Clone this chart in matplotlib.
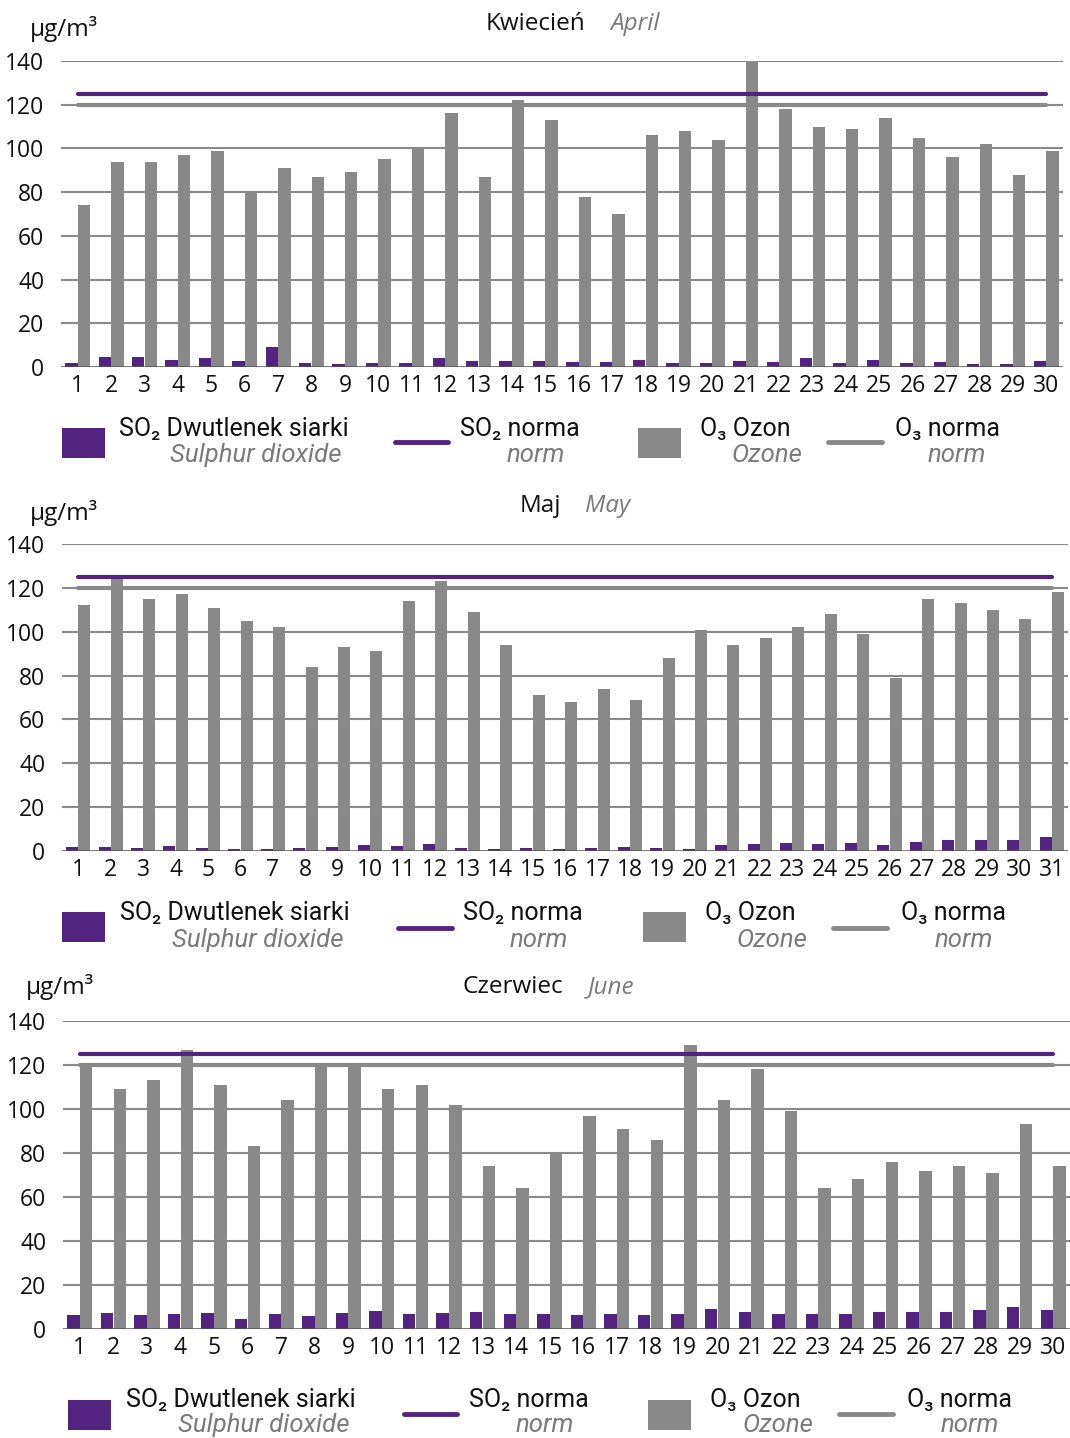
import matplotlib
matplotlib.use('Agg')
import matplotlib.pyplot as plt
from matplotlib.patches import Rectangle
from matplotlib.lines import Line2D
import numpy as np

W, H = 1070, 1438
PURPLE = '#52247f'
GRAY = '#898989'
ITAL = '#7a7a7a'
GRID = '#8a8a8a'

# ---------------- data ----------------
month_pl = ['Kwiecień', 'Maj', 'Czerwiec']
month_en = ['April', 'May', 'June']

april_so2 = [1.7, 4.4, 4.4, 3.1, 4.0, 2.6, 9.0, 1.7, 1.2, 1.7, 1.7, 4.0, 2.6, 2.6, 2.6,
             2.1, 2.1, 3.1, 1.7, 1.7, 2.6, 2.1, 4.0, 1.7, 3.1, 1.7, 2.1, 1.2, 1.2, 2.6]
april_o3 = [74, 94, 94, 97, 99, 80, 91, 87, 89, 95, 100, 116, 87, 122, 113,
            78, 70, 106, 108, 104, 140, 118, 110, 109, 114, 105, 96, 102, 88, 99]
may_so2 = [1.8, 1.8, 1.4, 2.3, 1.4, 0.9, 0.9, 1.4, 1.8, 2.7, 2.3, 3.2, 1.4, 0.9, 1.4, 0.9,
           1.4, 1.8, 1.4, 0.9, 2.7, 3.2, 3.6, 3.2, 3.6, 2.7, 4.1, 5.0, 5.0, 5.0, 6.4]
may_o3 = [112, 124, 115, 117, 111, 105, 102, 84, 93, 91, 114, 123, 109, 94, 71, 68,
          74, 69, 88, 101, 94, 97, 102, 108, 99, 79, 115, 113, 110, 106, 118]
june_so2 = [6.4, 7.3, 6.4, 6.8, 7.3, 4.6, 6.8, 5.9, 7.3, 8.2, 6.8, 7.3, 7.7, 6.8, 6.8,
            6.4, 6.8, 6.4, 6.8, 9.1, 7.7, 6.8, 6.8, 6.8, 7.7, 7.7, 7.7, 8.7, 10.0, 8.7]
june_o3 = [120, 109, 113, 127, 111, 83, 104, 121, 121, 109, 111, 102, 74, 64, 80,
           97, 91, 86, 129, 104, 118, 99, 64, 68, 76, 72, 74, 71, 93, 74]

so2_norm = 125
o3_norm = 120
y_ticks = [0, 20, 40, 60, 80, 100, 120, 140]

so2_series = [april_so2, may_so2, june_so2]
o3_series = [april_o3, may_o3, june_o3]

# ---------------- layout (pixels) ----------------
axes_px = [(61, 1063, 61, 367), (62, 1068, 544, 851), (63, 1070, 1021, 1329)]
unit_px = [(30, 29), (30, 513), (26, 987)]
title_px = [(585, 610, 24), (561, 585, 506), (563, 588, 987)]
legend_px = [
    dict(r1=429, r2=455, st=428, sb=458, ly=442,
         sq1=(62, 105), t1=119, i1=342, l1=(395, 448), t2=460, i2=565,
         sq2=(638, 681), t3=700, i3=802, l2=(828, 882), t4=895, i4=986),
    dict(r1=913, r2=940, st=912, sb=942, ly=928,
         sq1=(62, 105), t1=120, i1=344, l1=(398, 452), t2=463, i2=568,
         sq2=(643, 686), t3=705, i3=807, l2=(833, 887), t4=901, i4=993),
    dict(r1=1400, r2=1425, st=1400, sb=1430, ly=1414,
         sq1=(68, 111), t1=126, i1=350, l1=(404, 457), t2=469, i2=574,
         sq2=(648, 691), t3=710, i3=813, l2=(839, 893), t4=907, i4=999),
]

TICKFONT = ['Open Sans', 'DejaVu Sans']
LEGFONT = ['Roboto', 'DejaVu Sans']


def fx(x):
    return x / W


def fy(y):
    return 1 - y / H


fig = plt.figure(figsize=(W / 100, H / 100), dpi=100)
fig.patch.set_facecolor('white')

for i in range(3):
    l, r, t, b = axes_px[i]
    ax = fig.add_axes([fx(l), fy(b), fx(r) - fx(l), fy(t) - fy(b)])
    so2 = np.array(so2_series[i])
    o3 = np.array(o3_series[i])
    n = len(o3)
    days = np.arange(1, n + 1)

    for v in y_ticks[1:]:
        ax.axhline(v, color=GRID, lw=1.5, zorder=0)
    ax.axhline(0, color='#505050', lw=1.8, zorder=3)

    ax.bar(days - 0.19, so2, width=0.37, color=PURPLE, zorder=2)
    ax.bar(days + 0.19, o3, width=0.37, color=GRAY, zorder=2)

    ax.plot([days[0], days[-1]], [so2_norm, so2_norm], color=PURPLE, lw=3.0,
            solid_capstyle='round', zorder=4)
    ax.plot([days[0], days[-1]], [o3_norm, o3_norm], color=GRAY, lw=3.0,
            solid_capstyle='round', zorder=4)

    ax.set_xlim(0.5, n + 0.5)
    ax.set_ylim(0, 140)
    ax.set_xticks(days)
    ax.set_xticklabels([str(d) for d in days], family=TICKFONT, fontsize=16.5)
    ax.set_yticks(y_ticks)
    ax.set_yticklabels([str(v) for v in y_ticks], family=TICKFONT, fontsize=16.5)
    ax.tick_params(axis='x', length=0, pad=5, colors='#111111')
    ax.tick_params(axis='y', length=0, pad=12, colors='#111111')
    for s in ax.spines.values():
        s.set_visible(False)
    ax.set_facecolor('none')

    ux, uy = unit_px[i]
    fig.text(fx(ux), fy(uy), 'µg/m³', family=TICKFONT, fontsize=17.5,
             ha='left', va='center', color='#111111')
    tr, tl, ty = title_px[i]
    fig.text(fx(tr), fy(ty), month_pl[i], family=TICKFONT, fontsize=17.5,
             ha='right', va='center', color='#111111')
    fig.text(fx(tl), fy(ty), month_en[i], family=TICKFONT, fontsize=17.5,
             style='italic', ha='left', va='center', color=ITAL)

    L = legend_px[i]
    for (x0, x1), col in [(L['sq1'], PURPLE), (L['sq2'], GRAY)]:
        fig.add_artist(Rectangle((fx(x0), fy(L['sb'])), fx(x1) - fx(x0),
                                 fy(L['st']) - fy(L['sb']), transform=fig.transFigure,
                                 facecolor=col, edgecolor='none'))
    for (x0, x1), col in [(L['l1'], PURPLE), (L['l2'], GRAY)]:
        fig.add_artist(Line2D([fx(x0), fx(x1)], [fy(L['ly']), fy(L['ly'])],
                              transform=fig.transFigure, color=col, lw=3.5,
                              solid_capstyle='round'))
    for key, txt in [('t1', 'SO₂ Dwutlenek siarki'), ('t2', 'SO₂ norma'),
                     ('t3', 'O₃ Ozon'), ('t4', 'O₃ norma')]:
        fig.text(fx(L[key]), fy(L['r1']), txt, family=LEGFONT, fontsize=18,
                 ha='left', va='center', color='#111111')
    for key, txt in [('i1', 'Sulphur dioxide'), ('i2', 'norm'),
                     ('i3', 'Ozone'), ('i4', 'norm')]:
        fig.text(fx(L[key]), fy(L['r2']), txt, family=LEGFONT, fontsize=18.5,
                 style='italic', ha='right', va='center', color=ITAL)

fig.savefig('out.png', dpi=100, facecolor='white')
